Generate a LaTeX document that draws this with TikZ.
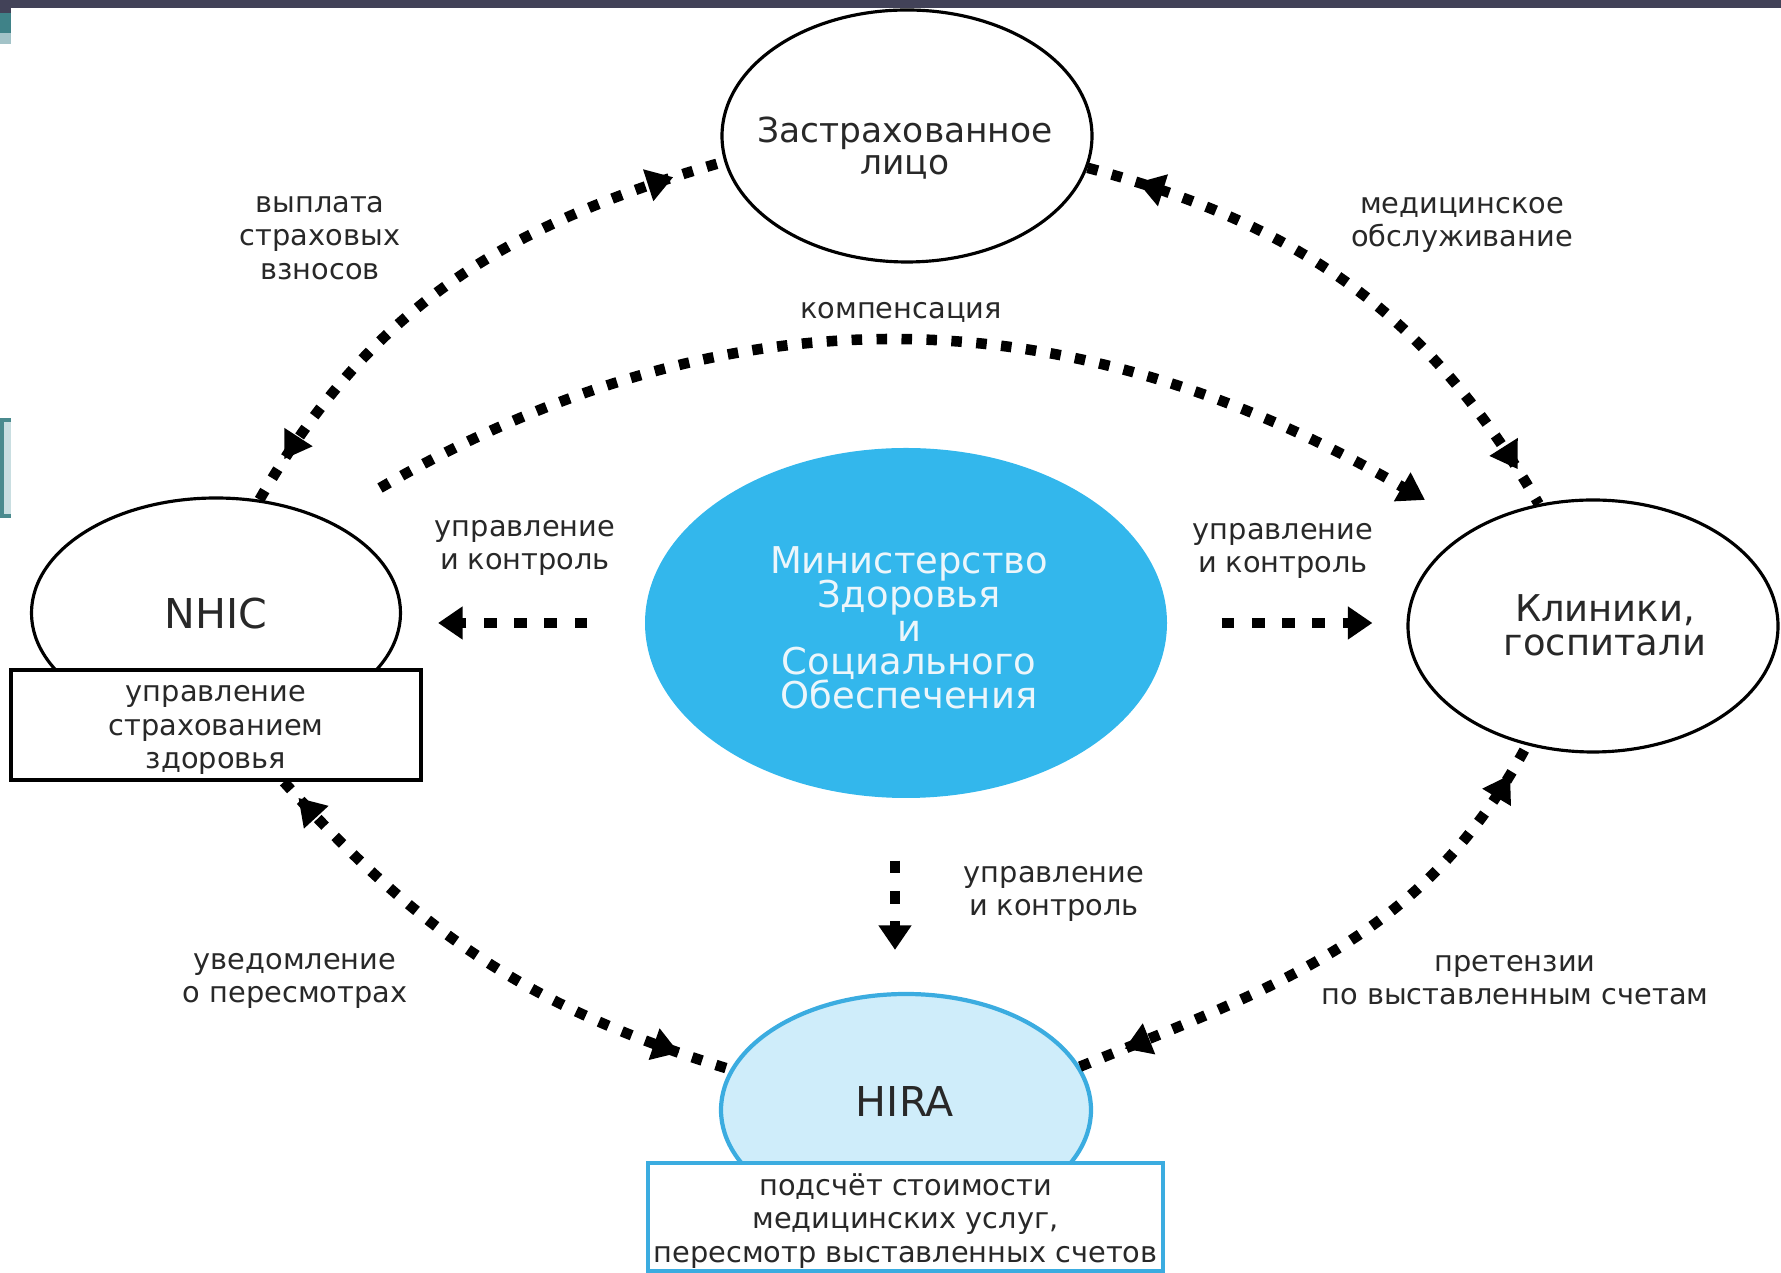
\documentclass[tikz,border=0pt]{standalone}
\usepackage{fontspec}
\setmainfont{DejaVu Sans}
\usepackage{xcolor}
\definecolor{barDark}{RGB}{66, 66, 88}
\definecolor{tealMid}{RGB}{63, 130, 136}
\definecolor{tealLight}{RGB}{163, 195, 200}
\definecolor{tealEdge}{RGB}{74, 138, 142}
\definecolor{tealFill}{RGB}{201, 222, 225}
\definecolor{minBlue}{RGB}{51, 183, 236}
\definecolor{minText}{RGB}{236, 246, 251}
\definecolor{hiraFill}{RGB}{207, 237, 250}
\definecolor{hiraEdge}{RGB}{59, 172, 224}
\definecolor{inkGray}{RGB}{40, 40, 40}
\usepackage{tikz}
\usetikzlibrary{
    shapes.geometric,
    arrows.meta,
    positioning,
    decorations.markings
}
\lineskiplimit=-20pt

\begin{document}
\begin{tikzpicture}[
    bigOval/.style={
        ellipse, draw=black, line width=0.9pt, fill=white,
        inner sep=0pt, minimum width=3.7cm, minimum height=2.52cm
    },
    ministryOval/.style={
        ellipse, fill=minBlue, inner sep=0pt,
        minimum width=5.22cm, minimum height=3.5cm
    },
    hiraOval/.style={
        ellipse, draw=hiraEdge, line width=1.2pt, fill=hiraFill,
        inner sep=0pt, minimum width=3.7cm, minimum height=2.32cm
    },
    ovalText/.style={
        text=inkGray, align=center, font=\fontsize{10.5}{9.6}\selectfont
    },
    abbrText/.style={
        text=inkGray, font=\fontsize{11.7}{13}\selectfont
    },
    noteBox/.style={
        rectangle, draw=black, line width=1.1pt, fill=white,
        text=inkGray, align=center, inner sep=1pt,
        font=\fontsize{8.2}{9.6}\selectfont
    },
    flowArrow/.style={
        draw=black, line width=3pt, dash pattern=on 3pt off 4.1pt
    },
    ctrlArrow/.style={
        draw=black, line width=3pt, dash pattern=on 3.6pt off 5pt,
        -{Triangle[length=7pt,width=9pt]}
    },
    twoHeads/.style 2 args={
        postaction={decorate, decoration={markings,
            mark=at position #1 with {\arrowreversed{Triangle[length=7.5pt,width=9pt]}},
            mark=at position #2 with {\arrow{Triangle[length=7.5pt,width=9pt]}}}}
    },
    arrowLabel/.style={
        text=inkGray, align=center, inner sep=1pt,
        font=\fontsize{8.2}{9.5}\selectfont
    }
]

    \useasboundingbox (0,0) rectangle (17.81,12.73);

    % Slide frame
    \fill[barDark] (0,12.65) rectangle (17.81,12.73);
    \fill[barDark] (0,12.60) rectangle (0.11,12.65);
    \fill[tealMid] (0,12.40) rectangle (0.11,12.60);
    \fill[tealLight] (0,12.29) rectangle (0.11,12.40);
    \fill[tealFill] (0,7.56) rectangle (0.11,8.54);
    \draw[tealEdge, line width=0.9pt] (0.11,8.53) -- (0.02,8.53) -- (0.02,7.57) -- (0.11,7.57);

    % Participants
    \node[bigOval] (insured) at (9.07,11.37) {};
    \node[ovalText, font=\fontsize{9.8}{9.1}\selectfont] (insuredText) at (9.05,11.25) {Застрахованное\\лицо};

    \node[bigOval, minimum width=3.69cm, minimum height=2.3cm] (nhic) at (2.16,6.6) {};
    \node[abbrText] (nhicText) at (2.16,6.59) {NHIC};
    \node[noteBox, minimum width=4.1cm, minimum height=1.1cm] (nhicBox) at (2.16,5.48) {};
    \node[noteBox, draw=none, fill=none] (nhicBoxText) at (2.16,5.43)
        {управление\\страхованием\\здоровья};

    \node[bigOval] (clinics) at (15.93,6.47) {};
    \node[ovalText] (clinicsText) at (16.05,6.48) {Клиники,\\госпитали};

    \node[ministryOval] (ministry) at (9.06,6.5) {};
    \node[ovalText, text=minText] (ministryText) at (9.09,6.45)
        {Министерство\\Здоровья\\и\\Социального\\Обеспечения};

    \node[hiraOval] (hira) at (9.06,1.63) {};
    \node[abbrText] (hiraText) at (9.05,1.71) {HIRA};
    \node[noteBox, draw=hiraEdge, minimum width=5.15cm, minimum height=1.08cm] (hiraBox) at (9.055,0.56) {};
    \node[noteBox, draw=none, fill=none] (hiraBoxText) at (9.055,0.52)
        {подсчёт стоимости\\медицинских услуг,\\пересмотр выставленных счетов};

    % Free ends of the compensation arc
    \coordinate (compStart) at (3.80,7.85);
    \coordinate (compEnd) at (14.25,7.73);

    % Money and service flows
    \draw[flowArrow, twoHeads={0.08}{0.91}] (nhic.69) to[out=60, in=196] (insured.188);
    \draw[flowArrow, twoHeads={0.09}{0.93}] (insured.-10) to[out=-15, in=120] (clinics.114);
    \draw[flowArrow, -{Triangle[length=7.5pt,width=9pt]}] (compStart) to[out=30, in=150] (compEnd);
    \draw[flowArrow, twoHeads={0.04}{0.9}] (nhicBox.-40) to[out=-48, in=163] (hira.167);
    \draw[flowArrow, twoHeads={0.085}{0.94}] (hira.14) to[out=22, in=242] (clinics.241);

    % Control arrows from the ministry
    \draw[ctrlArrow, shorten <=0.57cm, shorten >=0.36cm] (ministry.west) -- (ministry.west -| nhic.east);
    \draw[ctrlArrow, shorten <=0.54cm, shorten >=0.34cm] (ministry.east) -- (ministry.east -| clinics.west);
    \draw[ctrlArrow, shorten <=0.62cm, shorten >=0.42cm] ([xshift=-0.11cm]ministry.south) -- ([xshift=-0.11cm]hira.north);

    % Labels
    \node[arrowLabel] (premiumLabel) at (3.20,10.35) {выплата\\страховых\\взносов};
    \node[arrowLabel] (serviceLabel) at (14.62,10.48) {медицинское\\обслуживание};
    \node[arrowLabel] (compLabel) at (9.01,9.61) {компенсация};
    \node[arrowLabel] (ctrlLeftLabel) at (5.25,7.25) {управление\\и контроль};
    \node[arrowLabel] (ctrlRightLabel) at (12.83,7.22) {управление\\и контроль};
    \node[arrowLabel] (ctrlDownLabel) at (10.54,3.79) {управление\\и контроль};
    \node[arrowLabel] (noticeLabel) at (2.95,2.92) {уведомление\\о пересмотрах};
    \node[arrowLabel] (claimLabel) at (15.15,2.93) {претензии\\по выставленным счетам};

\end{tikzpicture}
\end{document}
